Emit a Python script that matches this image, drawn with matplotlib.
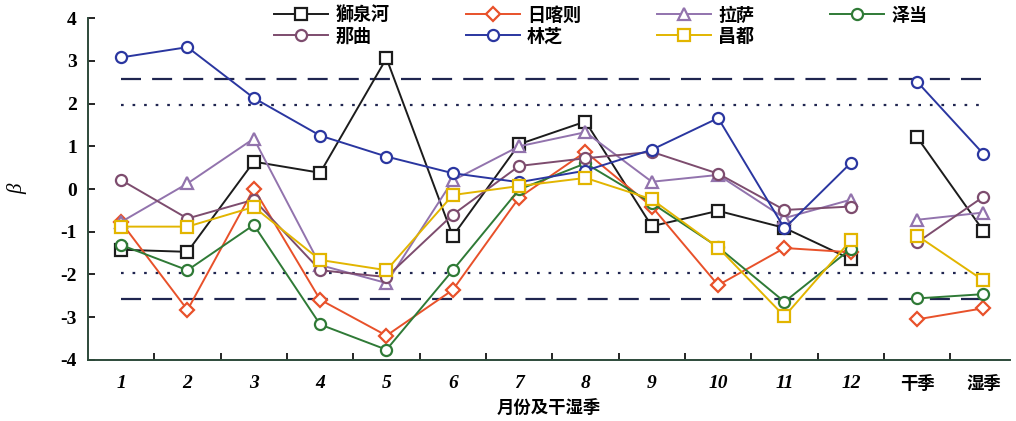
import matplotlib
matplotlib.use('Agg')
import matplotlib.pyplot as plt
import numpy as np

plt.rcParams['font.family'] = ['Liberation Serif', 'Noto Sans CJK SC']
plt.rcParams['axes.unicode_minus'] = False

# x categories: 12 months then the dry / wet season
months = ['1', '2', '3', '4', '5', '6', '7', '8', '9', '10', '11', '12']
seasons = ['干季', '湿季']

# beta values per station: monthly values, then dry/wet season
stations = ['獅泉河', '日喀则', '拉萨', '泽当', '那曲', '林芝', '昌都']
shiquanhe_m = [-1.42, -1.47, 0.64, 0.38, 3.06, -1.10, 1.05, 1.58, -0.87, -0.51, -0.91, -1.64]
shiquanhe_s = [1.21, -0.98]
rikaze_m = [-0.78, -2.83, 0.01, -2.59, -3.43, -2.36, -0.20, 0.87, -0.41, -2.25, -1.38, -1.48]
rikaze_s = [-3.05, -2.79]
lasa_m = [-0.77, 0.13, 1.18, -1.78, -2.20, 0.20, 1.00, 1.33, 0.17, 0.33, -0.68, -0.25]
lasa_s = [-0.72, -0.55]
zedang_m = [-1.31, -1.90, -0.84, -3.17, -3.76, -1.90, -0.01, 0.60, -0.33, -1.36, -2.64, -1.40]
zedang_s = [-2.56, -2.46]
naqu_m = [0.21, -0.69, -0.25, -1.90, -2.06, -0.60, 0.54, 0.72, 0.87, 0.36, -0.49, -0.41]
naqu_s = [-1.25, -0.18]
linzhi_m = [3.08, 3.32, 2.13, 1.25, 0.76, 0.37, 0.16, 0.43, 0.92, 1.66, -0.92, 0.61]
linzhi_s = [2.51, 0.82]
changdu_m = [-0.88, -0.88, -0.42, -1.66, -1.90, -0.14, 0.07, 0.26, -0.24, -1.37, -2.98, -1.20]
changdu_s = [-1.09, -2.14]

# significance levels (99% dashed, 95% dotted)
crit_99 = 2.58
crit_95 = 1.96

series = [
    (shiquanhe_m, shiquanhe_s, '#1c1c1c', 's'),
    (rikaze_m, rikaze_s, '#e8512a', 'D'),
    (lasa_m, lasa_s, '#9273ad', '^'),
    (zedang_m, zedang_s, '#2f7a36', 'o'),
    (naqu_m, naqu_s, '#7d4c6e', 'o'),
    (linzhi_m, linzhi_s, '#2a36a0', 'o'),
    (changdu_m, changdu_s, '#e2b500', 's'),
]

labels = months + seasons
x_m = np.arange(1, len(months) + 1)
x_s = np.arange(len(months) + 1, len(labels) + 1)

fig = plt.figure(figsize=(10.16, 4.21), dpi=100)
ax = fig.add_axes([0.0866, 0.145, 0.9075, 0.812])

ref_color = '#1f2550'
for sign in (1, -1):
    ax.plot([1, len(labels)], [sign * crit_99] * 2, color=ref_color, lw=1.6,
            dashes=(9, 5), zorder=1)
    ax.plot([1, len(labels)], [sign * crit_95] * 2, color=ref_color, lw=1.6,
            dashes=(1.2, 4.0), zorder=1)

handles = []
for (ym, ys, c, mk), name in zip(series, stations):
    ms = {'s': 8.5, 'D': 7, '^': 8, 'o': 8}[mk]
    kw = dict(color=c, marker=mk, markersize=ms, markerfacecolor='white',
              markeredgecolor=c, markeredgewidth=1.6, lw=1.4, zorder=3)
    h, = ax.plot(x_m, ym, label=name, **kw)
    ax.plot(x_s, ys, **kw)
    handles.append(h)

ax.set_xlim(0.5, 14.4)
ax.set_ylim(-4, 4)
ax.set_yticks(np.arange(-4, 5, 1))
ax.set_yticklabels([str(v) for v in range(-4, 5)], fontsize=14, fontweight='bold')

ax.set_xticks(np.arange(1.5, len(labels)), minor=False)
ax.set_xticklabels([])
ax.set_xticks(np.arange(1, len(labels) + 1), minor=True)
ax.set_xticklabels(labels, minor=True)
for t, lab in zip(ax.get_xticklabels(minor=True), labels):
    t.set_fontsize(14)
    t.set_fontweight('bold')
    if lab.isdigit():
        t.set_fontstyle('italic')
    else:
        t.set_family(['Noto Sans CJK SC'])
        t.set_fontsize(12.5)

ax.tick_params(axis='x', which='major', direction='in', length=5, width=1.2)
ax.tick_params(axis='x', which='minor', length=0, pad=11)
ax.tick_params(axis='y', direction='in', length=5, width=1.2, pad=8)

for side in ('top', 'right'):
    ax.spines[side].set_visible(False)
for side in ('left', 'bottom'):
    ax.spines[side].set_color('#2d4a3a')
    ax.spines[side].set_linewidth(1.4)

ax.set_xlabel('月份及干湿季', family=['Noto Sans CJK SC'], fontsize=12.5,
              fontweight='bold', labelpad=5)
ax.set_ylabel('β', fontsize=15, fontstyle='italic', labelpad=24)

order = [0, 4, 1, 5, 2, 6, 3]
fig.legend([handles[i] for i in order], [stations[i] for i in order],
           ncol=4, loc='upper left', bbox_to_anchor=(0.254, 1.025),
           frameon=False, handlelength=3.0, handletextpad=0.4,
           columnspacing=4.2, labelspacing=0.1,
           prop={'family': ['Noto Sans CJK SC'], 'size': 13, 'weight': 'bold'})

fig.savefig('out.png', dpi=100)
